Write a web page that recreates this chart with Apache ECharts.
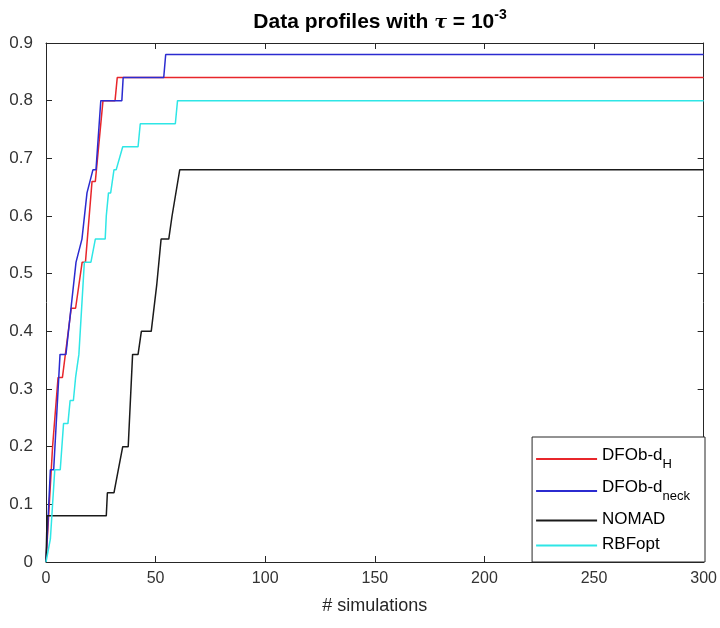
<!DOCTYPE html>
<html>
<head>
<meta charset="utf-8">
<script src="https://cdn.jsdelivr.net/npm/echarts@6/dist/echarts.min.js"></script>
<style>
html,body{margin:0;padding:0;background:#fff;}
#c{width:720px;height:628px;}
</style>
</head>
<body>
<div id="c"></div>
<script>
// ---- data ----
var seriesNames = ['DFOb-dH', 'DFOb-dneck', 'NOMAD', 'RBFopt'];
var xTicks = [0, 50, 100, 150, 200, 250, 300];
var yTicks = [0, 0.1, 0.2, 0.3, 0.4, 0.5, 0.6, 0.7, 0.8, 0.9];

var redX = [0, 3, 5.5, 7.5, 11.5, 13.5, 15, 16.5, 18, 21, 22.5, 26, 31.5, 32.5, 300];
var redY = [0, 0.2, 0.32, 0.32, 0.44, 0.44, 0.48, 0.52, 0.52, 0.66, 0.66, 0.80, 0.80, 0.84, 0.84];

var blueX = [0, 2, 3.5, 6.4, 9.1, 13.7, 14.2, 16.4, 17.3, 18.7, 19.6, 21.4, 22.8, 25, 34.6, 35.2, 53.7, 54.6, 300];
var blueY = [0, 0.16, 0.16, 0.36, 0.36, 0.52, 0.52, 0.56, 0.56, 0.64, 0.64, 0.68, 0.68, 0.80, 0.80, 0.84, 0.84, 0.88, 0.88];

var blackX = [0, 0.5, 27.5, 28, 31, 33, 33.5, 35, 37.5, 39.5, 42, 43.5, 48, 50.5, 52.5, 56, 57.5, 58, 61, 300];
var blackY = [0, 0.08, 0.08, 0.12, 0.12, 0.16, 0.16, 0.20, 0.20, 0.36, 0.36, 0.40, 0.40, 0.48, 0.56, 0.56, 0.60, 0.60, 0.68, 0.68];

var cyanX = [0, 2, 4, 6.5, 8, 10, 11, 12.5, 13.5, 15, 17.5, 20.5, 22.5, 27, 27.5, 28.5, 29.5, 31, 32, 35, 42, 43, 59, 60, 300];
var cyanY = [0, 0.04, 0.16, 0.16, 0.24, 0.24, 0.28, 0.28, 0.32, 0.36, 0.52, 0.52, 0.56, 0.56, 0.60, 0.64, 0.64, 0.68, 0.68, 0.72, 0.72, 0.76, 0.76, 0.80, 0.80];

var colors = ['#e8262b', '#2b2bd0', '#1a1a1a', '#2ee6e6'];

function zip(xs, ys) { return xs.map(function (x, i) { return [x, ys[i]]; }); }
var allData = [zip(redX, redY), zip(blueX, blueY), zip(blackX, blackY), zip(cyanX, cyanY)];

var axisColor = '#262626';
var labelFont = 'Liberation Sans, Arial, sans-serif';

var chart = echarts.init(document.getElementById('c'), null, {renderer: 'canvas'});

function fmtY(v) { return String(Math.round(v * 10) / 10); }

var option = {
  backgroundColor: '#ffffff',
  animation: false,
  title: {
    left: 375, top: 3, textAlign: 'center',
    text: '{b|Data profiles with }{t|τ}{b| = 10}{sup|-3}',
    textStyle: {
      rich: {
        b: {fontFamily: labelFont, fontWeight: 'bold', fontSize: 21, color: '#000', lineHeight: 25, verticalAlign: 'bottom'},
        t: {fontFamily: 'DejaVu Serif, serif', fontStyle: 'italic', fontSize: 19, color: '#000', lineHeight: 25, verticalAlign: 'bottom'},
        sup: {fontFamily: labelFont, fontWeight: 'bold', fontSize: 14, color: '#000', lineHeight: 14, verticalAlign: 'top', padding: [0, 0, 12, 0]}
      }
    }
  },
  grid: {left: 46, right: 15, top: 43, bottom: 66, show: false},
  legend: {
    orient: 'vertical', right: 15, bottom: 66,
    backgroundColor: '#fff', borderColor: axisColor, borderWidth: 1,
    padding: [10, 15, 9, 4], itemGap: 8,
    itemWidth: 61, itemHeight: 2, icon: 'rect',
    data: seriesNames,
    formatter: function (name) {
      if (name === 'DFOb-dH') return '{m|DFOb-d}{s|H}';
      if (name === 'DFOb-dneck') return '{m|DFOb-d}{s|neck}';
      return '{m|' + name + '}';
    },
    textStyle: {
      rich: {
        m: {fontFamily: labelFont, fontSize: 17, color: '#000', lineHeight: 19, verticalAlign: 'top'},
        s: {fontFamily: labelFont, fontSize: 13, color: '#000', lineHeight: 24, verticalAlign: 'bottom'}
      }
    }
  },
  xAxis: [{
    type: 'value', min: 0, max: 300, interval: 50,
    name: '# simulations', nameLocation: 'middle', nameGap: 35,
    nameTextStyle: {fontFamily: labelFont, fontSize: 18, color: axisColor},
    axisLine: {show: true, onZero: false, lineStyle: {color: axisColor, width: 1}},
    axisTick: {show: true, inside: true, length: 6, lineStyle: {color: axisColor}},
    axisLabel: {fontFamily: labelFont, fontSize: 16, color: '#333', margin: 9},
    splitLine: {show: false}
  }, {
    type: 'value', min: 0, max: 300, interval: 50, position: 'top',
    axisLine: {show: true, onZero: false, lineStyle: {color: axisColor, width: 1}},
    axisTick: {show: true, inside: true, length: 6, lineStyle: {color: axisColor}},
    axisLabel: {show: false}, splitLine: {show: false}
  }],
  yAxis: [{
    type: 'value', min: 0, max: 0.9, interval: 0.1,
    axisLine: {show: true, onZero: false, lineStyle: {color: axisColor, width: 1}},
    axisTick: {show: true, inside: true, length: 6, lineStyle: {color: axisColor}},
    axisLabel: {fontFamily: labelFont, fontSize: 17, color: '#333', margin: 13, formatter: fmtY},
    splitLine: {show: false}
  }, {
    type: 'value', min: 0, max: 0.9, interval: 0.1, position: 'right',
    axisLine: {show: true, onZero: false, lineStyle: {color: axisColor, width: 1}},
    axisTick: {show: true, inside: true, length: 6, lineStyle: {color: axisColor}},
    axisLabel: {show: false}, splitLine: {show: false}
  }],
  series: seriesNames.map(function (n, i) {
    return {
      name: n, type: 'line', data: allData[i],
      xAxisIndex: 0, yAxisIndex: 0,
      showSymbol: false, symbol: 'none',
      color: colors[i],
      lineStyle: {color: colors[i], width: 1.5},
      z: 2 + i
    };
  })
};
chart.setOption(option);
</script>
</body>
</html>
